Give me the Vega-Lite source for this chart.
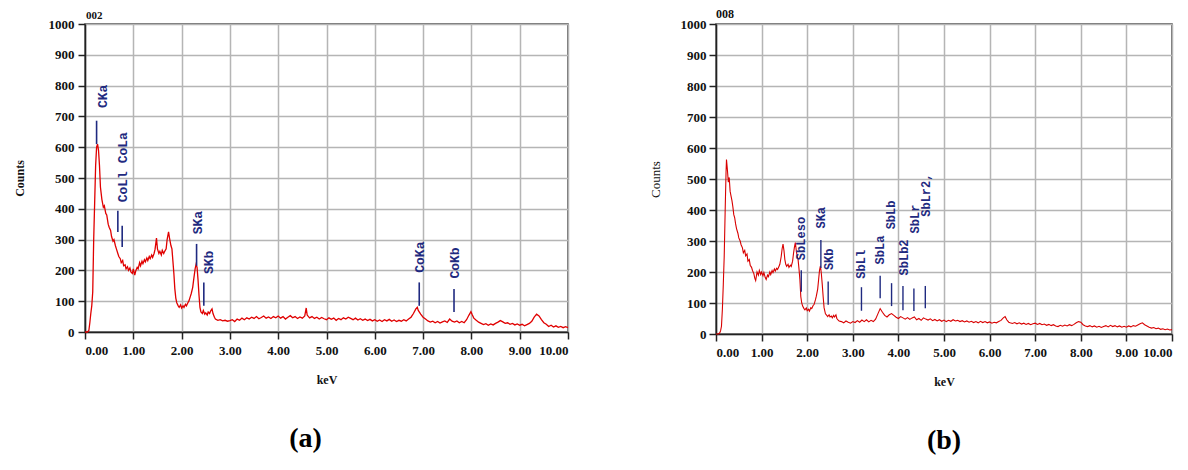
{
  "$schema": "https://vega.github.io/schema/vega-lite/v6.json",
  "background": "white",
  "padding": {"left": 12, "top": 7, "right": 0, "bottom": 0},
  "spacing": 76,
  "datasets": {
    "specA": [
      {"e":0.00,"c":0},{"e":0.05,"c":0},{"e":0.08,"c":5},{"e":0.10,"c":30},{"e":0.12,"c":60},{"e":0.14,"c":85},{"e":0.16,"c":130},{"e":0.18,"c":300},{"e":0.20,"c":420},{"e":0.22,"c":540},{"e":0.24,"c":600},{"e":0.26,"c":610},{"e":0.28,"c":590},{"e":0.30,"c":540},{"e":0.32,"c":470},{"e":0.35,"c":430},{"e":0.38,"c":405},{"e":0.40,"c":410},{"e":0.43,"c":385},{"e":0.45,"c":380},{"e":0.48,"c":350},{"e":0.50,"c":340},{"e":0.53,"c":330},{"e":0.55,"c":310},{"e":0.58,"c":295},{"e":0.60,"c":300},{"e":0.63,"c":280},{"e":0.65,"c":270},{"e":0.68,"c":255},{"e":0.70,"c":245},{"e":0.73,"c":238},{"e":0.75,"c":225},{"e":0.78,"c":232},{"e":0.80,"c":215},{"e":0.83,"c":218},{"e":0.85,"c":205},{"e":0.88,"c":212},{"e":0.90,"c":200},{"e":0.93,"c":208},{"e":0.95,"c":195},{"e":0.98,"c":190},{"e":1.00,"c":205},{"e":1.03,"c":185},{"e":1.05,"c":198},{"e":1.08,"c":210},{"e":1.10,"c":205},{"e":1.13,"c":225},{"e":1.15,"c":215},{"e":1.18,"c":230},{"e":1.20,"c":222},{"e":1.23,"c":235},{"e":1.25,"c":228},{"e":1.28,"c":240},{"e":1.30,"c":232},{"e":1.33,"c":245},{"e":1.35,"c":238},{"e":1.38,"c":250},{"e":1.40,"c":242},{"e":1.43,"c":255},{"e":1.45,"c":268},{"e":1.48,"c":305},{"e":1.50,"c":270},{"e":1.53,"c":255},{"e":1.55,"c":262},{"e":1.58,"c":250},{"e":1.60,"c":265},{"e":1.63,"c":255},{"e":1.65,"c":262},{"e":1.68,"c":270},{"e":1.70,"c":300},{"e":1.73,"c":325},{"e":1.75,"c":305},{"e":1.78,"c":280},{"e":1.80,"c":270},{"e":1.82,"c":230},{"e":1.84,"c":190},{"e":1.86,"c":140},{"e":1.88,"c":110},{"e":1.90,"c":95},{"e":1.93,"c":85},{"e":1.95,"c":80},{"e":1.98,"c":88},{"e":2.00,"c":78},{"e":2.03,"c":85},{"e":2.05,"c":80},{"e":2.08,"c":90},{"e":2.10,"c":85},{"e":2.13,"c":95},{"e":2.15,"c":100},{"e":2.18,"c":115},{"e":2.20,"c":125},{"e":2.23,"c":145},{"e":2.25,"c":170},{"e":2.28,"c":205},{"e":2.30,"c":220},{"e":2.32,"c":210},{"e":2.34,"c":170},{"e":2.36,"c":120},{"e":2.38,"c":80},{"e":2.40,"c":65},{"e":2.43,"c":60},{"e":2.45,"c":70},{"e":2.48,"c":58},{"e":2.50,"c":62},{"e":2.53,"c":55},{"e":2.55,"c":65},{"e":2.58,"c":60},{"e":2.60,"c":68},{"e":2.63,"c":75},{"e":2.65,"c":60},{"e":2.68,"c":48},{"e":2.70,"c":42},{"e":2.75,"c":38},{"e":2.80,"c":40},{"e":2.85,"c":36},{"e":2.90,"c":38},{"e":2.95,"c":35},{"e":3.00,"c":37},
      {"e":3.05,"c":40},{"e":3.10,"c":34},{"e":3.15,"c":42},{"e":3.20,"c":38},{"e":3.25,"c":45},{"e":3.30,"c":40},{"e":3.35,"c":46},{"e":3.40,"c":42},{"e":3.45,"c":48},{"e":3.50,"c":44},{"e":3.55,"c":50},{"e":3.60,"c":43},{"e":3.65,"c":47},{"e":3.70,"c":52},{"e":3.75,"c":45},{"e":3.80,"c":49},{"e":3.85,"c":44},{"e":3.90,"c":50},{"e":3.95,"c":46},{"e":4.00,"c":52},{"e":4.05,"c":45},{"e":4.10,"c":50},{"e":4.15,"c":42},{"e":4.20,"c":48},{"e":4.25,"c":53},{"e":4.30,"c":46},{"e":4.35,"c":50},{"e":4.40,"c":44},{"e":4.45,"c":49},{"e":4.50,"c":45},{"e":4.55,"c":52},{"e":4.58,"c":78},{"e":4.60,"c":55},{"e":4.65,"c":46},{"e":4.70,"c":50},{"e":4.75,"c":44},{"e":4.80,"c":48},{"e":4.85,"c":42},{"e":4.90,"c":47},{"e":4.95,"c":43},{"e":5.00,"c":40},{"e":5.05,"c":46},{"e":5.10,"c":41},{"e":5.15,"c":45},{"e":5.20,"c":38},{"e":5.25,"c":44},{"e":5.30,"c":40},{"e":5.35,"c":46},{"e":5.40,"c":42},{"e":5.45,"c":48},{"e":5.50,"c":44},{"e":5.55,"c":40},{"e":5.60,"c":45},{"e":5.65,"c":39},{"e":5.70,"c":43},{"e":5.75,"c":38},{"e":5.80,"c":42},{"e":5.85,"c":37},{"e":5.90,"c":41},{"e":5.95,"c":36},{"e":6.00,"c":40},{"e":6.05,"c":35},{"e":6.10,"c":39},{"e":6.15,"c":34},{"e":6.20,"c":40},{"e":6.25,"c":36},{"e":6.30,"c":41},{"e":6.35,"c":35},{"e":6.40,"c":39},{"e":6.45,"c":34},{"e":6.50,"c":38},{"e":6.55,"c":35},{"e":6.60,"c":40},{"e":6.65,"c":36},{"e":6.70,"c":42},{"e":6.75,"c":48},{"e":6.80,"c":60},{"e":6.85,"c":75},{"e":6.88,"c":80},{"e":6.90,"c":70},{"e":6.95,"c":58},{"e":7.00,"c":48},{"e":7.05,"c":42},{"e":7.10,"c":36},{"e":7.15,"c":32},{"e":7.20,"c":35},{"e":7.25,"c":30},{"e":7.30,"c":34},{"e":7.35,"c":29},{"e":7.40,"c":33},{"e":7.45,"c":36},{"e":7.50,"c":31},{"e":7.55,"c":42},{"e":7.60,"c":35},{"e":7.65,"c":32},{"e":7.70,"c":36},{"e":7.75,"c":30},{"e":7.80,"c":34},{"e":7.85,"c":30},{"e":7.90,"c":40},{"e":7.95,"c":55},{"e":7.99,"c":66},{"e":8.02,"c":55},{"e":8.05,"c":45},{"e":8.10,"c":38},{"e":8.15,"c":32},{"e":8.20,"c":28},{"e":8.25,"c":24},{"e":8.30,"c":27},{"e":8.35,"c":22},{"e":8.40,"c":26},{"e":8.45,"c":23},{"e":8.50,"c":28},{"e":8.55,"c":32},{"e":8.60,"c":37},{"e":8.65,"c":33},{"e":8.70,"c":28},{"e":8.75,"c":30},{"e":8.80,"c":25},{"e":8.85,"c":28},{"e":8.90,"c":23},{"e":8.95,"c":26},{"e":9.00,"c":22},{"e":9.05,"c":25},{"e":9.10,"c":20},{"e":9.15,"c":24},{"e":9.20,"c":28},{"e":9.25,"c":35},{"e":9.30,"c":48},{"e":9.35,"c":58},{"e":9.40,"c":52},{"e":9.45,"c":40},{"e":9.50,"c":30},{"e":9.55,"c":25},{"e":9.60,"c":18},{"e":9.65,"c":22},{"e":9.70,"c":16},{"e":9.75,"c":20},{"e":9.80,"c":15},{"e":9.85,"c":18},{"e":9.90,"c":14},{"e":9.95,"c":17},{"e":10.00,"c":14}
    ],
    "specB": [
      {"e":0.00,"c":0},{"e":0.05,"c":0},{"e":0.08,"c":3},{"e":0.10,"c":10},{"e":0.12,"c":25},{"e":0.14,"c":80},{"e":0.16,"c":160},{"e":0.18,"c":250},{"e":0.20,"c":390},{"e":0.22,"c":520},{"e":0.23,"c":563},{"e":0.25,"c":530},{"e":0.27,"c":490},{"e":0.29,"c":505},{"e":0.31,"c":460},{"e":0.33,"c":445},{"e":0.35,"c":430},{"e":0.37,"c":410},{"e":0.39,"c":385},{"e":0.41,"c":375},{"e":0.43,"c":355},{"e":0.45,"c":340},{"e":0.48,"c":325},{"e":0.50,"c":310},{"e":0.53,"c":300},{"e":0.55,"c":288},{"e":0.58,"c":278},{"e":0.60,"c":262},{"e":0.63,"c":270},{"e":0.65,"c":252},{"e":0.68,"c":258},{"e":0.70,"c":235},{"e":0.73,"c":240},{"e":0.75,"c":222},{"e":0.78,"c":215},{"e":0.80,"c":205},{"e":0.83,"c":195},{"e":0.85,"c":180},{"e":0.87,"c":172},{"e":0.90,"c":200},{"e":0.93,"c":190},{"e":0.95,"c":205},{"e":0.98,"c":192},{"e":1.00,"c":200},{"e":1.03,"c":188},{"e":1.05,"c":198},{"e":1.08,"c":182},{"e":1.10,"c":176},{"e":1.13,"c":190},{"e":1.15,"c":185},{"e":1.18,"c":200},{"e":1.20,"c":192},{"e":1.23,"c":205},{"e":1.25,"c":198},{"e":1.28,"c":210},{"e":1.30,"c":203},{"e":1.33,"c":212},{"e":1.35,"c":208},{"e":1.38,"c":218},{"e":1.40,"c":225},{"e":1.43,"c":250},{"e":1.45,"c":275},{"e":1.47,"c":290},{"e":1.49,"c":270},{"e":1.51,"c":240},{"e":1.53,"c":225},{"e":1.55,"c":218},{"e":1.58,"c":225},{"e":1.60,"c":215},{"e":1.63,"c":222},{"e":1.65,"c":218},{"e":1.68,"c":235},{"e":1.70,"c":260},{"e":1.72,"c":280},{"e":1.74,"c":295},{"e":1.76,"c":270},{"e":1.78,"c":250},{"e":1.80,"c":240},{"e":1.82,"c":210},{"e":1.84,"c":175},{"e":1.86,"c":120},{"e":1.88,"c":100},{"e":1.90,"c":90},{"e":1.93,"c":82},{"e":1.95,"c":78},{"e":1.98,"c":84},{"e":2.00,"c":75},{"e":2.03,"c":80},{"e":2.05,"c":74},{"e":2.08,"c":85},{"e":2.10,"c":82},{"e":2.13,"c":92},{"e":2.15,"c":95},{"e":2.18,"c":110},{"e":2.20,"c":122},{"e":2.23,"c":145},{"e":2.25,"c":175},{"e":2.27,"c":205},{"e":2.29,"c":220},{"e":2.31,"c":195},{"e":2.33,"c":160},{"e":2.35,"c":120},{"e":2.37,"c":85},{"e":2.40,"c":65},{"e":2.43,"c":60},{"e":2.45,"c":56},{"e":2.48,"c":62},{"e":2.50,"c":55},{"e":2.53,"c":58},{"e":2.55,"c":52},{"e":2.58,"c":60},{"e":2.60,"c":55},{"e":2.63,"c":62},{"e":2.65,"c":50},{"e":2.68,"c":45},{"e":2.70,"c":42},{"e":2.75,"c":40},{"e":2.80,"c":36},{"e":2.85,"c":42},{"e":2.90,"c":38},{"e":2.95,"c":35},{"e":3.00,"c":40},{"e":3.05,"c":37},{"e":3.10,"c":43},{"e":3.15,"c":38},{"e":3.20,"c":45},{"e":3.25,"c":40},{"e":3.30,"c":46},{"e":3.35,"c":39},{"e":3.40,"c":44},{"e":3.45,"c":40},{"e":3.50,"c":48},{"e":3.55,"c":65},{"e":3.60,"c":82},{"e":3.65,"c":70},{"e":3.70,"c":60},{"e":3.75,"c":55},{"e":3.80,"c":62},{"e":3.85,"c":66},{"e":3.90,"c":60},{"e":3.95,"c":54},{"e":4.00,"c":50},{"e":4.05,"c":56},{"e":4.10,"c":52},{"e":4.15,"c":48},{"e":4.20,"c":53},{"e":4.25,"c":47},{"e":4.30,"c":52},{"e":4.35,"c":55},{"e":4.40,"c":46},{"e":4.45,"c":50},{"e":4.50,"c":44},{"e":4.55,"c":52},{"e":4.60,"c":48},{"e":4.65,"c":45},{"e":4.70,"c":49},{"e":4.75,"c":43},{"e":4.80,"c":47},{"e":4.85,"c":42},{"e":4.90,"c":46},{"e":4.95,"c":41},{"e":5.00,"c":45},{"e":5.05,"c":40},{"e":5.10,"c":44},{"e":5.15,"c":41},{"e":5.20,"c":46},{"e":5.25,"c":42},{"e":5.30,"c":44},{"e":5.35,"c":40},{"e":5.40,"c":43},{"e":5.45,"c":39},{"e":5.50,"c":42},{"e":5.55,"c":38},{"e":5.60,"c":41},{"e":5.65,"c":37},{"e":5.70,"c":40},{"e":5.75,"c":36},{"e":5.80,"c":41},{"e":5.85,"c":37},{"e":5.90,"c":40},{"e":5.95,"c":36},{"e":6.00,"c":39},{"e":6.05,"c":35},{"e":6.10,"c":38},{"e":6.15,"c":36},{"e":6.20,"c":40},{"e":6.25,"c":44},{"e":6.30,"c":52},{"e":6.34,"c":56},{"e":6.38,"c":45},{"e":6.42,"c":38},{"e":6.45,"c":36},{"e":6.50,"c":34},{"e":6.55,"c":37},{"e":6.60,"c":33},{"e":6.65,"c":36},{"e":6.70,"c":32},{"e":6.75,"c":35},{"e":6.80,"c":31},{"e":6.85,"c":34},{"e":6.90,"c":30},{"e":6.95,"c":33},{"e":7.00,"c":35},{"e":7.05,"c":31},{"e":7.10,"c":34},{"e":7.15,"c":30},{"e":7.20,"c":32},{"e":7.25,"c":28},{"e":7.30,"c":31},{"e":7.35,"c":27},{"e":7.40,"c":30},{"e":7.45,"c":26},{"e":7.50,"c":24},{"e":7.55,"c":28},{"e":7.60,"c":25},{"e":7.65,"c":29},{"e":7.70,"c":26},{"e":7.75,"c":30},{"e":7.80,"c":27},{"e":7.85,"c":31},{"e":7.90,"c":36},{"e":7.95,"c":40},{"e":8.00,"c":38},{"e":8.05,"c":30},{"e":8.10,"c":26},{"e":8.15,"c":24},{"e":8.20,"c":27},{"e":8.25,"c":23},{"e":8.30,"c":26},{"e":8.35,"c":22},{"e":8.40,"c":25},{"e":8.45,"c":21},{"e":8.50,"c":24},{"e":8.55,"c":27},{"e":8.60,"c":23},{"e":8.65,"c":28},{"e":8.70,"c":24},{"e":8.75,"c":27},{"e":8.80,"c":23},{"e":8.85,"c":26},{"e":8.90,"c":22},{"e":8.95,"c":25},{"e":9.00,"c":22},{"e":9.05,"c":26},{"e":9.10,"c":23},{"e":9.15,"c":27},{"e":9.20,"c":25},{"e":9.25,"c":29},{"e":9.30,"c":33},{"e":9.35,"c":36},{"e":9.40,"c":30},{"e":9.45,"c":26},{"e":9.50,"c":22},{"e":9.55,"c":19},{"e":9.60,"c":21},{"e":9.65,"c":17},{"e":9.70,"c":19},{"e":9.75,"c":15},{"e":9.80,"c":17},{"e":9.85,"c":14},{"e":9.90,"c":16},{"e":9.95,"c":13},{"e":10.00,"c":14}
    ],
    "rulesA": [
      {"e":0.24,"c":610,"c2":686},{"e":0.68,"c":325,"c2":394},{"e":0.77,"c":276,"c2":345},{"e":2.31,"c":215,"c2":286},{"e":2.46,"c":85,"c2":161},{"e":6.92,"c":85,"c2":161},{"e":7.64,"c":65,"c2":140}
    ],
    "labelsA": [
      {"e":0.38,"c":765,"t":"CKa"},{"e":0.78,"c":535,"t":"CoLl CoLa"},{"e":2.34,"c":355,"t":"SKa"},{"e":2.56,"c":226,"t":"SKb"},{"e":6.94,"c":243,"t":"CoKa"},{"e":7.66,"c":224,"t":"CoKb"}
    ],
    "rulesB": [
      {"e":1.87,"c":136,"c2":206},{"e":2.30,"c":213,"c2":303},{"e":2.46,"c":94,"c2":169},{"e":3.19,"c":75,"c2":151},{"e":3.60,"c":115,"c2":188},{"e":3.85,"c":90,"c2":164},{"e":4.10,"c":77,"c2":155},{"e":4.34,"c":74,"c2":147},{"e":4.59,"c":83,"c2":155}
    ],
    "labelsB": [
      {"e":1.86,"c":308,"t":"SbLeso"},{"e":2.30,"c":375,"t":"SKa"},{"e":2.47,"c":241,"t":"SKb"},{"e":3.18,"c":225,"t":"SbLl"},{"e":3.60,"c":271,"t":"SbLa"},{"e":3.84,"c":384,"t":"SbLb"},{"e":4.12,"c":247,"t":"SbLb2"},{"e":4.36,"c":371,"t":"SbLr"},{"e":4.61,"c":448,"t":"SbLr2,"}
    ],
    "idA": [{"e":0,"c":1000,"t":"002"}],
    "idB": [{"e":0,"c":1000,"t":"008"}]
  },
  "config": {
    "view": {"stroke": "#444444", "strokeWidth": 1.5},
    "axis": {
      "grid": true, "gridColor": "#b5b5b5", "gridWidth": 1.5,
      "domainColor": "#222222", "domainWidth": 1.5,
      "tickColor": "#222222", "tickWidth": 1.5, "tickSize": 7,
      "labelOverlap": false,
      "labelFont": "Liberation Serif", "labelFontWeight": "bold", "labelFontSize": 13, "labelColor": "#111111",
      "titleFont": "Liberation Serif", "titleFontWeight": "bold", "titleFontSize": 12, "titleColor": "#111111"
    },
    "title": {"font": "Liberation Serif", "fontSize": 28, "fontWeight": "bold", "color": "#000000"}
  },
  "hconcat": [
    {
      "width": 483, "height": 308,
      "title": {"text": "(a)", "orient": "bottom", "frame": "group", "anchor": "middle", "dx": -21, "offset": 40},
      "encoding": {
        "x": {"field": "e", "type": "quantitative", "scale": {"domain": [0, 10]},
              "axis": {"title": "keV", "values": [0,1,2,3,4,5,6,7,8,9,10], "format": ".2f", "labelPadding": 5, "titlePadding": 17}},
        "y": {"field": "c", "type": "quantitative", "scale": {"domain": [0, 1000]},
              "axis": {"title": "Counts", "values": [0,100,200,300,400,500,600,700,800,900,1000], "format": "d", "labelPadding": 4, "titlePadding": 22}}
      },
      "layer": [
        {
          "data": {"name": "specA"},
          "mark": {"type": "line", "color": "#e00000", "strokeWidth": 1.3}
        },
        {
          "data": {"name": "rulesA"},
          "mark": {"type": "rule", "color": "#1f2a80", "strokeWidth": 1.6},
          "encoding": {"y2": {"field": "c2"}}
        },
        {
          "data": {"name": "labelsA"},
          "mark": {"type": "text", "angle": 270, "align": "center", "baseline": "middle", "font": "Liberation Mono", "fontWeight": "bold", "fontSize": 13, "color": "#1f2a80"},
          "encoding": {"text": {"field": "t"}}
        },
        {
          "data": {"name": "idA"},
          "mark": {"type": "text", "align": "left", "baseline": "bottom", "dy": -3, "dx": 1, "font": "Liberation Serif", "fontWeight": "bold", "fontSize": 11, "color": "#111111"},
          "encoding": {"text": {"field": "t"}}
        }
      ]
    },
    {
      "width": 456, "height": 310,
      "title": {"text": "(b)", "orient": "bottom", "frame": "group", "anchor": "middle", "offset": 40},
      "encoding": {
        "x": {"field": "e", "type": "quantitative", "scale": {"domain": [0, 10]},
              "axis": {"title": "keV", "values": [0,1,2,3,4,5,6,7,8,9,10], "format": ".2f", "labelPadding": 5, "titlePadding": 17}},
        "y": {"field": "c", "type": "quantitative", "scale": {"domain": [0, 1000]},
              "axis": {"title": "Counts", "titleFontWeight": "normal", "titleFontSize": 13, "values": [0,100,200,300,400,500,600,700,800,900,1000], "format": "d", "labelPadding": 3, "titlePadding": 18}}
      },
      "layer": [
        {
          "data": {"name": "specB"},
          "mark": {"type": "line", "color": "#d80000", "strokeWidth": 1.1}
        },
        {
          "data": {"name": "rulesB"},
          "mark": {"type": "rule", "color": "#1f2a80", "strokeWidth": 1.4},
          "encoding": {"y2": {"field": "c2"}}
        },
        {
          "data": {"name": "labelsB"},
          "mark": {"type": "text", "angle": 270, "align": "center", "baseline": "middle", "font": "Liberation Mono", "fontWeight": "bold", "fontSize": 12, "color": "#1f2a80"},
          "encoding": {"text": {"field": "t"}}
        },
        {
          "data": {"name": "idB"},
          "mark": {"type": "text", "align": "left", "baseline": "bottom", "dy": -3, "dx": 0, "font": "Liberation Serif", "fontWeight": "bold", "fontSize": 12, "color": "#111111"},
          "encoding": {"text": {"field": "t"}}
        }
      ]
    }
  ]
}
